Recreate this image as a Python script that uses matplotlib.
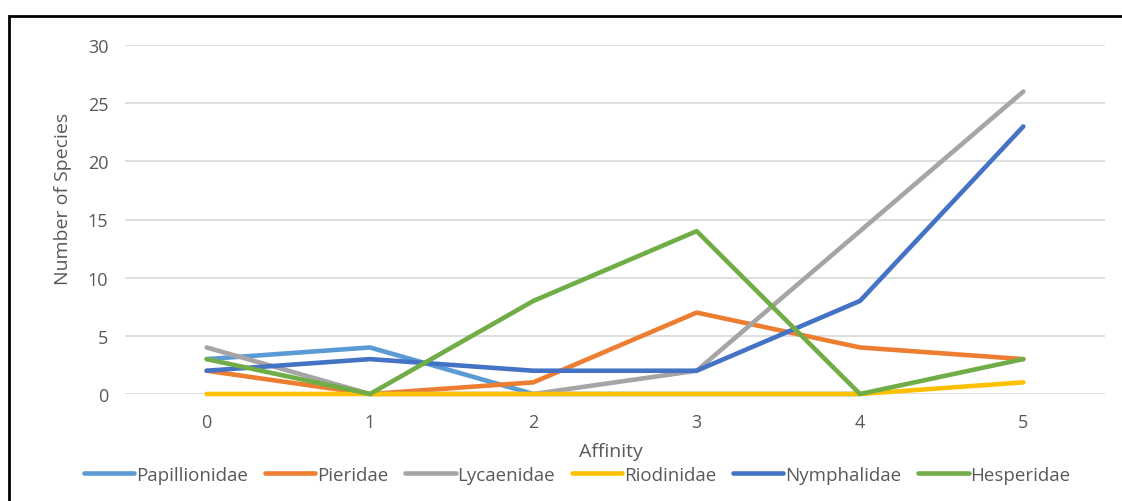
import matplotlib
matplotlib.use("Agg")
from matplotlib import pyplot as plt
from matplotlib.patches import Rectangle
import numpy as np

affinity = [0, 1, 2, 3, 4, 5]
papillionidae = [3, 4, 0, 0, 0, np.nan]
pieridae = [2, 0, 1, 7, 4, 3]
lycaenidae = [4, 0, 0, 2, 14, 26]
riodinidae = [0, 0, 0, 0, 0, 1]
nymphalidae = [2, 3, 2, 2, 8, 23]
hesperidae = [3, 0, 8, 14, 0, 3]

series = [
    ("Papillionidae", papillionidae, "#5B9BD5"),
    ("Pieridae", pieridae, "#ED7D31"),
    ("Lycaenidae", lycaenidae, "#A5A5A5"),
    ("Riodinidae", riodinidae, "#FFC000"),
    ("Nymphalidae", nymphalidae, "#4472C4"),
    ("Hesperidae", hesperidae, "#70AD47"),
]

plt.rcParams['font.family'] = ['Open Sans', 'DejaVu Sans']
TXT = '#595959'

fig = plt.figure(figsize=(11.22, 5.02), dpi=100)
ax = fig.add_axes([125 / 1122, 1 - 395 / 502, 980 / 1122, 349 / 502])

for name, vals, col in series:
    ax.plot(affinity, vals, color=col, lw=3.3, label=name, clip_on=False,
            solid_capstyle='round', solid_joinstyle='round')

ax.set_xlim(-0.5, 5.5)
ax.set_ylim(0, 30)
ax.set_yticks(range(0, 31, 5))
ax.set_xticks(affinity)
ax.grid(axis='y', color='#D9D9D9', lw=1.2)
ax.set_axisbelow(True)
for s in ax.spines.values():
    s.set_visible(False)
ax.tick_params(length=0, labelsize=13, labelcolor=TXT)
ax.tick_params(axis='y', pad=12)
ax.tick_params(axis='x', pad=14)

fig.text(611 / 1122, 1 - 452 / 502, "Affinity", ha='center', va='center',
         fontsize=14, color=TXT)
fig.text(63 / 1122, 1 - 199 / 502, "Number of Species", ha='center', va='center',
         rotation=90, fontsize=14, color=TXT)

fig.legend(loc='center', bbox_to_anchor=(577 / 1122, 1 - 476 / 502), ncol=6,
           frameon=False, fontsize=13.5, labelcolor=TXT, handlelength=2.7,
           handletextpad=0.08, columnspacing=0.9)

# black chart frame, cut off on the right and bottom
fig.patches.append(Rectangle((9 / 1122, -0.1), 1.2, 1 - 17 / 502 + 0.1,
                             transform=fig.transFigure, fill=False,
                             edgecolor='black', lw=2))

fig.savefig("out.png", dpi=100)
